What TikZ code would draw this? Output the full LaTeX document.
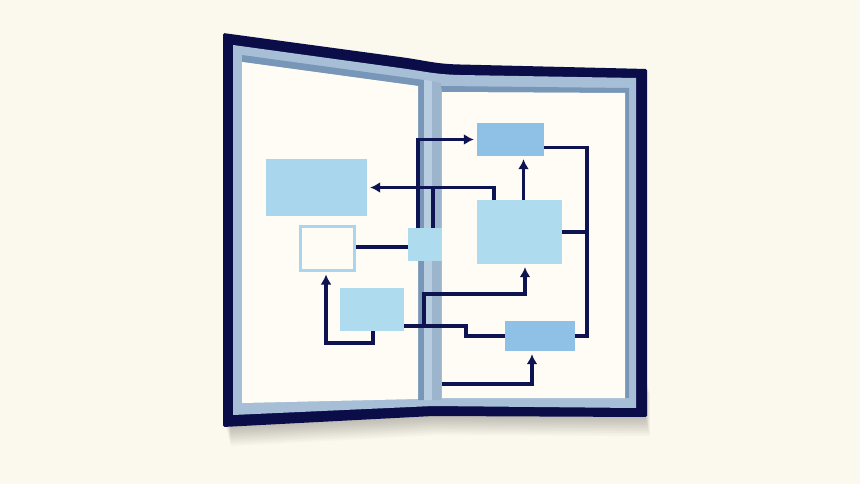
\documentclass[tikz,border=0pt]{standalone}
\usetikzlibrary{arrows.meta}
\definecolor{bgc}{HTML}{FBF8ED}
\definecolor{navy}{HTML}{0A0D47}
\definecolor{wire}{HTML}{0E1352}
\definecolor{band}{HTML}{A7BFD6}
\definecolor{strip}{HTML}{7897B8}
\definecolor{spinelight}{HTML}{B9CDE0}
\definecolor{spinemid}{HTML}{9CB5CD}
\definecolor{paper}{HTML}{FEFCF4}
\definecolor{boxmid}{HTML}{8FC1E7}
\definecolor{boxlight}{HTML}{A9D6EC}
\definecolor{boxpale}{HTML}{AEDBEE}
\tikzset{
  blk/.style={inner sep=0pt, draw=none},
  conn/.style={draw=wire, line width=3.6pt},
  arr/.style={conn, -{Latex[length=10pt,width=11pt]}, shorten >=3pt},
}
\begin{document}
\begin{tikzpicture}[x=1pt,y=-1pt]
\fill[bgc] (0,0) rectangle (860,484);
\useasboundingbox (0,0) rectangle (860,484);
% soft shadow
\foreach \i in {1,...,12}{
  \begin{scope}[shift={(0.4*\i,1.6*\i)}]
    \fill[black,opacity=0.018] (226,380) -- (433,372) -- (645,374) -- (645,417) -- (433,416) -- (226,427) -- cycle;
  \end{scope}
}
% outer frame
\fill[navy, rounded corners=1.5pt] (223,33) -- (400,57) .. controls (425,60.4) and (435,63.9) .. (460,64.5) -- (647,69) -- (647,417) -- (433,416) -- (223,427) -- cycle;
% light band
\fill[band] (233,45) -- (400,68) .. controls (425,71.4) and (435,74.4) .. (460,75) -- (636,78) -- (636,408) -- (433,406) -- (233,415) -- cycle;
% left page
\fill[strip] (242,55) -- (424,80) -- (424,400) -- (418,400) -- (418,86) -- (242,62) -- cycle;
\fill[paper] (242,62) -- (418,86) -- (418,399) -- (242,403) -- cycle;
% spine
\fill[spinelight] (424,80) -- (432,81) -- (432,400) -- (424,400) -- cycle;
\fill[spinemid] (432,81) -- (441,83) -- (441,400) -- (432,400) -- cycle;
% right page
\fill[strip] (441,86) -- (629,88) -- (629,398) -- (625,398) -- (625,93) -- (442,92) -- cycle;
\fill[paper] (442,92) -- (625,93) -- (625,398) -- (442,398) -- cycle;

% blocks
\node[blk, fill=boxmid, minimum width=67pt, minimum height=33pt] (A) at (510.5,139.5) {};
\node[blk, fill=boxlight, minimum width=101pt, minimum height=57pt] (B) at (316.5,187.5) {};
\node[inner sep=0pt, draw=boxlight, line width=3pt, fill=paper, minimum width=54pt, minimum height=44pt] (C) at (327.5,248) {};
\node[blk, fill=boxpale, minimum width=34pt, minimum height=33pt] (D) at (425,244.5) {};
\node[blk, fill=boxpale, minimum width=85pt, minimum height=64pt] (E) at (519.5,232) {};
\node[blk, fill=boxpale, minimum width=64pt, minimum height=43pt] (F) at (372,309.5) {};
\node[blk, fill=boxmid, minimum width=70pt, minimum height=30pt] (G) at (540,336) {};

\coordinate (R) at (587,232);
\coordinate (S) at (466,326);
\coordinate (J) at (424,326);
\coordinate (K) at (442,384);

% connectors
\draw[arr] ([xshift=-7pt]D.north) |- (A.west);
\draw[conn] ([xshift=8pt]D.north) |- ([xshift=-25pt]E.north west |- B.east);
\draw[arr] ([xshift=17pt]E.north west) |- (B.east);
\draw[arr] ([xshift=4pt]E.north) -- ([xshift=4pt]E.north |- A.south);
\draw[conn] ([yshift=-8pt]A.east) -| (R) |- (G.east);
\draw[conn] (E.east) -- (R);
\draw[conn] ([yshift=1pt]C.east) -- ([yshift=1pt]C.east -| D.west);
\draw[arr] ([xshift=1pt]F.south) -- ++(0,12) -| ([xshift=-1.5pt]C.south);
\draw[conn] ([yshift=-16.5pt]F.east) -- (S) |- (G.west);
\draw[arr] (J) -- ++(0,-32) -| ([xshift=5.5pt]E.south);
\draw[arr] (K) -| ([xshift=-8pt]G.south);
\end{tikzpicture}
\end{document}
